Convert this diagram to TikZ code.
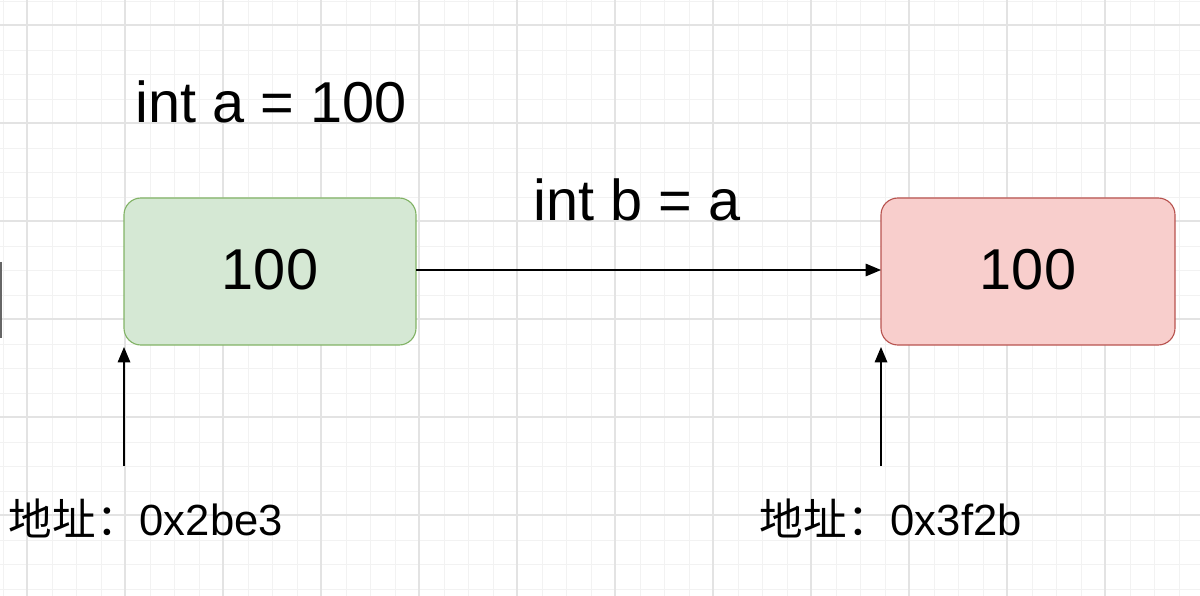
\documentclass[tikz,border=0pt]{standalone}
\usepackage{fontspec}
\setmainfont{Liberation Sans}
\newfontfamily\cjk{Noto Sans CJK SC}
\usetikzlibrary{arrows.meta}
\definecolor{boxgreen}{RGB}{213,232,212}
\definecolor{linegreen}{RGB}{130,179,102}
\definecolor{boxred}{RGB}{248,206,204}
\definecolor{linered}{RGB}{184,84,80}
\tikzset{
  membox/.style={rounded corners=12pt, line width=0.8pt},
  ptr/.style={-{Triangle[length=11pt,width=9pt]}, line width=0.9pt},
  big/.style={font=\fontsize{41}{44}\selectfont},
  addr/.style={font=\fontsize{31}{34}\selectfont, anchor=west}
}
\begin{document}
\begin{tikzpicture}[x=0.025cm,y=-0.025cm]
\useasboundingbox (0,0) rectangle (1200,596);
% grid
\foreach \x in {3,27.5,...,1200} \draw[black!5, line width=0.6pt] (\x,0) -- (\x,596);
\foreach \y in {1,25.5,...,596} \draw[black!5, line width=0.6pt] (0,\y) -- (1200,\y);
\foreach \x in {27,125,...,1200} \draw[black!11, line width=0.9pt] (\x,0) -- (\x,596);
\foreach \y in {25,123,...,596} \draw[black!11, line width=0.9pt] (0,\y) -- (1200,\y);
\draw[black!60, line width=2pt] (1,262) -- (1,338);
% boxes
\draw[membox, fill=boxgreen, draw=linegreen] (124,198) rectangle (416,345);
\node[big] (va) at (270,270) {100};
\draw[membox, fill=boxred, draw=linered] (881,198) rectangle (1175,345);
\node[big] (vb) at (1028,270) {100};
\coordinate (aout) at (416,270);
\coordinate (bin) at (881,270);
\draw[ptr] (aout) -- (bin);
\node[big] (decla) at (271,102) {int a = 100};
\node[big] (declb) at (637,200) {int b = a};
% addresses
\node[addr] (adda) at (4,518) {{\cjk 地址：}0x2be3};
\node[addr] (addb) at (755,518) {{\cjk 地址：}0x3f2b};
\coordinate (pa) at (124,466);
\coordinate (ta) at (124,347);
\coordinate (pb) at (881,466);
\coordinate (tb) at (881,347);
\draw[ptr] (pa) -- (ta);
\draw[ptr] (pb) -- (tb);
\end{tikzpicture}
\end{document}
